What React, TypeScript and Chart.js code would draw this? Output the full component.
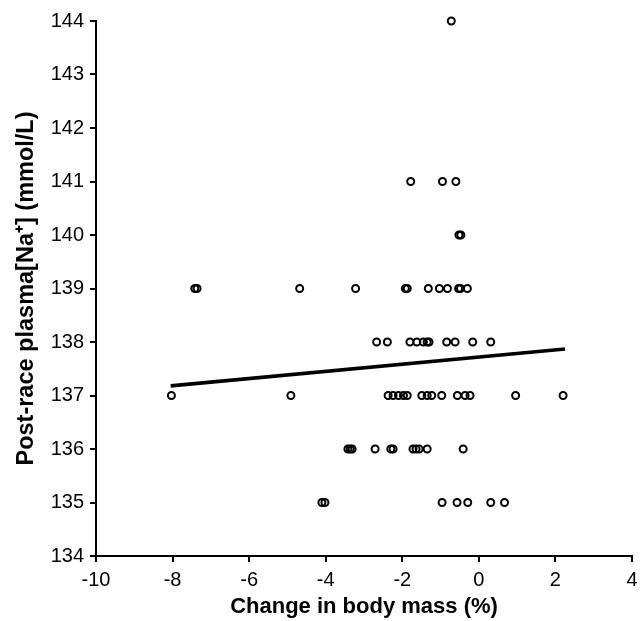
import React, { useEffect, useRef } from "react";
import { Chart, registerables } from "chart.js";

Chart.register(...registerables);

// Change in body mass (%) for each runner
const bodyMassChange: number[] = [
  // 144
  -0.72,
  // 141
  -1.78, -0.95, -0.6,
  // 140
  -0.52, -0.47,
  // 139
  -7.42, -7.36, -4.68, -3.22, -1.92, -1.87, -1.32, -1.03, -0.82, -0.53, -0.48, -0.3,
  // 138
  -2.67, -2.39, -1.8, -1.62, -1.45, -1.35, -1.3, -0.84, -0.62, -0.16, 0.31,
  // 137
  -8.03, -4.91, -2.37, -2.24, -2.1, -1.97, -1.87, -1.49, -1.35, -1.23, -0.97, -0.56, -0.36, -0.23, 0.96, 2.2,
  // 136
  -3.42, -3.36, -3.31, -2.71, -2.3, -2.24, -1.72, -1.64, -1.56, -1.35, -0.41,
  // 135
  -4.1, -4.02, -0.96, -0.57, -0.29, 0.31, 0.67,
];

// Post-race plasma [Na+] (mmol/L) for each runner
const plasmaSodium: number[] = [
  144,
  141, 141, 141,
  140, 140,
  139, 139, 139, 139, 139, 139, 139, 139, 139, 139, 139, 139,
  138, 138, 138, 138, 138, 138, 138, 138, 138, 138, 138,
  137, 137, 137, 137, 137, 137, 137, 137, 137, 137, 137, 137, 137, 137, 137, 137,
  136, 136, 136, 136, 136, 136, 136, 136, 136, 136, 136,
  135, 135, 135, 135, 135, 135, 135,
];

// Regression line end points
const regressionX: number[] = [-8.05, 2.25];
const regressionY: number[] = [137.18, 137.87];

const xTitle = "Change in body mass (%)";
const yTitle = "Post-race plasma[Na\u207A] (mmol/L)";

const FONT = "'Liberation Sans', Arial, Helvetica, sans-serif";

export default function App() {
  const canvasRef = useRef<HTMLCanvasElement | null>(null);

  useEffect(() => {
    const canvas = canvasRef.current;
    if (!canvas) return;
    const points = bodyMassChange.map((x, i) => ({ x, y: plasmaSodium[i] }));
    const line = regressionX.map((x, i) => ({ x, y: regressionY[i] }));

    const chart = new Chart(canvas, {
      type: "scatter",
      data: {
        datasets: [
          {
            data: points,
            pointRadius: 3.5,
            pointBorderWidth: 2,
            borderColor: "#000",
            pointBorderColor: "#000",
            pointBackgroundColor: "rgba(0,0,0,0)",
            backgroundColor: "rgba(0,0,0,0)",
            showLine: false,
            clip: false,
          },
          {
            data: line,
            showLine: true,
            borderColor: "#000",
            borderWidth: 3.6,
            pointRadius: 0,
            fill: false,
          },
        ],
      },
      options: {
        responsive: false,
        animation: false,
        devicePixelRatio: 1,
        layout: { padding: { top: 21, right: 12, left: 0, bottom: 0 } },
        plugins: {
          legend: { display: false },
          tooltip: { enabled: false },
          title: { display: false },
        },
        scales: {
          x: {
            type: "linear",
            min: -10,
            max: 4,
            ticks: {
              stepSize: 2,
              color: "#000",
              padding: 6,
              font: { family: FONT, size: 20 },
            },
            grid: {
              display: true,
              drawOnChartArea: false,
              drawTicks: true,
              tickLength: 6,
              color: "#000",
              lineWidth: 2,
            },
            border: { display: true, color: "#000", width: 2 },
            title: {
              display: true,
              text: xTitle,
              color: "#000",
              font: { family: FONT, size: 22, weight: "bold" },
              padding: { top: 0, bottom: 1 },
            },
            afterFit: (scale: any) => {
              scale.height = 65;
            },
          },
          y: {
            type: "linear",
            min: 134,
            max: 144,
            ticks: {
              stepSize: 1,
              color: "#000",
              padding: 6,
              font: { family: FONT, size: 20 },
            },
            grid: {
              display: true,
              drawOnChartArea: false,
              drawTicks: true,
              tickLength: 6,
              color: "#000",
              lineWidth: 2,
            },
            border: { display: true, color: "#000", width: 2 },
            title: {
              display: true,
              text: yTitle,
              color: "#000",
              font: { family: FONT, size: 23.5, weight: "bold" },
              padding: { top: 12, bottom: 0 },
            },
            afterFit: (scale: any) => {
              scale.width = 96;
            },
          },
        },
      },
    });
    return () => chart.destroy();
  }, []);

  return (
    <div
      style={{
        position: "fixed",
        left: 0,
        top: 0,
        width: 644,
        height: 621,
        background: "#fff",
      }}
    >
      <canvas ref={canvasRef} width={644} height={621} style={{ width: 644, height: 621 }} />
    </div>
  );
}
